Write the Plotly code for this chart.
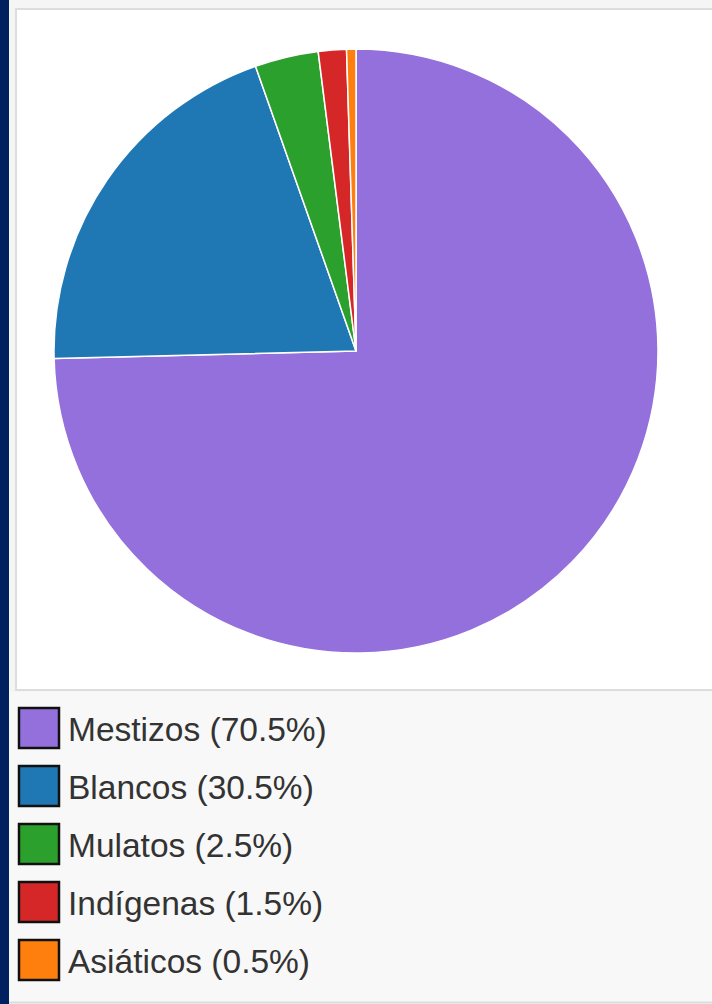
import plotly.graph_objects as go

W, H = 712, 1004

categories = ["Mestizos", "Blancos", "Mulatos", "Indígenas", "Asiáticos"]
legend_pct = ["70.5%", "30.5%", "2.5%", "1.5%", "0.5%"]
slice_values = [74.6, 20.0, 3.4, 1.5, 0.5]
colors = ["#9370db", "#1f77b4", "#2ca02c", "#d62728", "#ff7f0e"]


def fx(px):
    return px / W


def fy(py):
    return 1 - py / H


cx, cy, r = 356, 351, 302

fig = go.Figure()
fig.add_trace(go.Pie(
    labels=categories,
    values=slice_values,
    sort=False,
    direction="clockwise",
    rotation=0,
    textinfo="none",
    marker=dict(colors=colors, line=dict(color="white", width=1.5)),
    domain=dict(x=[fx(cx - r), fx(cx + r)], y=[fy(cy + r), fy(cy - r)]),
    showlegend=False,
))

shapes = [
    # legend area background
    dict(type="rect", xref="paper", yref="paper", x0=fx(9), x1=fx(W), y0=fy(1002), y1=fy(692),
         fillcolor="#f8f8f8", line=dict(width=0), layer="below"),
    dict(type="line", xref="paper", yref="paper", x0=fx(9), x1=fx(W), y0=fy(1002.5), y1=fy(1002.5),
         line=dict(color="#dcdcdc", width=2), layer="below"),
    # white chart panel
    dict(type="rect", xref="paper", yref="paper", x0=fx(16), x1=fx(W + 5), y0=fy(690), y1=fy(9),
         fillcolor="white", line=dict(color="#dddddd", width=2), layer="below"),
    # navy strip
    dict(type="rect", xref="paper", yref="paper", x0=0, x1=fx(9), y0=0, y1=1,
         fillcolor="#00205f", line=dict(width=0), layer="above"),
]

annotations = []
row0, step = 728, 58
for i, (cat, pct, col) in enumerate(zip(categories, legend_pct, colors)):
    yc = row0 + i * step
    shapes.append(dict(type="rect", xref="paper", yref="paper",
                       x0=fx(19), x1=fx(59), y0=fy(yc + 20), y1=fy(yc - 20),
                       fillcolor=col, line=dict(color="#111111", width=2.5)))
    annotations.append(dict(xref="paper", yref="paper", x=fx(66), y=fy(yc + 1),
                            xanchor="left", yanchor="middle", showarrow=False,
                            text=f"{cat} ({pct})",
                            font=dict(family="Liberation Sans, Arial, sans-serif", size=33.5, color="#333333")))

fig.update_layout(
    width=W, height=H,
    margin=dict(l=0, r=0, t=0, b=0),
    paper_bgcolor="#f5f5f5",
    plot_bgcolor="#f5f5f5",
    shapes=shapes,
    annotations=annotations,
)

fig.write_html("out.html", config={"displayModeBar": False},
               post_script="document.body.style.margin='0';document.body.style.overflow='hidden';")
